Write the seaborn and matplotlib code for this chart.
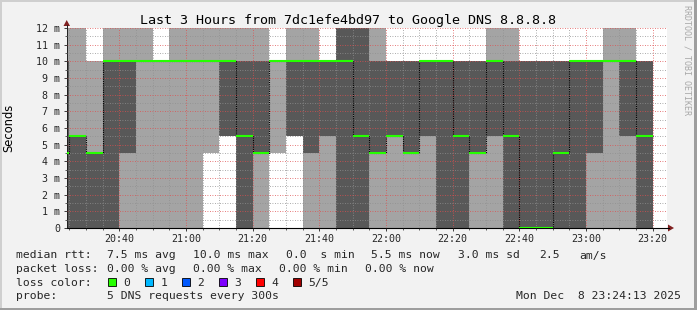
import numpy as np
import pandas as pd
import matplotlib
matplotlib.use("Agg")
import matplotlib.pyplot as plt
import seaborn as sns
from matplotlib.patches import Rectangle, Polygon
from matplotlib.lines import Line2D

# ---------------- data ----------------
bin_start = ["20:20", "20:25", "20:30", "20:35", "20:40", "20:45", "20:50", "20:55",
             "21:00", "21:05", "21:10", "21:15", "21:20", "21:25", "21:30", "21:35",
             "21:40", "21:45", "21:50", "21:55", "22:00", "22:05", "22:10", "22:15",
             "22:20", "22:25", "22:30", "22:35", "22:40", "22:45", "22:50", "22:55",
             "23:00", "23:05", "23:10", "23:15"]
# sorted pings of each 5-ping round (ms); 13 = off the top of the scale
ping_1 = [0, 0, 0, 0, 0, 0, 0, 0, 0, 4.5, 5.5, 0, 0, 4.5, 5.5, 0, 0, 0,
          0, 0, 0, 0, 0, 0, 0, 0, 0, 0, 0, 0, 0, 0, 0, 0, 0, 0]
ping_2 = [0, 0, 0, 0, 4.5, 10, 10, 10, 10, 10, 5.5, 0, 4.5, 10, 5.5, 4.5, 5.5, 0,
          0, 4.5, 5.5, 4.5, 5.5, 0, 0, 4.5, 5.5, 0, 0, 0, 0, 0, 4.5, 10, 5.5, 0]
median = [4.5, 5.5, 4.5, 10, 10, 10, 10, 10, 10, 10, 10, 5.5, 4.5, 10, 10, 10, 10, 10,
          5.5, 4.5, 5.5, 4.5, 10, 10, 5.5, 4.5, 10, 5.5, 0, 0, 4.5, 10, 10, 10, 10, 5.5]
ping_4 = [10, 5.5, 4.5, 10, 10, 10, 10, 10, 10, 10, 10, 10, 10, 10, 10, 10, 10, 13,
          13, 10, 10, 10, 10, 10, 10, 10, 10, 10, 10, 10, 10, 10, 10, 10, 10, 10]
ping_5 = [13, 13, 10, 13, 13, 13, 10, 13, 13, 13, 13, 13, 13, 10, 13, 13, 10, 13,
          13, 13, 10, 10, 10, 10, 10, 10, 13, 13, 10, 10, 10, 10, 10, 13, 13, 10]

x_tick_labels = ["20:40", "21:00", "21:20", "21:40", "22:00", "22:20", "22:40", "23:00", "23:20"]
y_tick_labels = ["0", "1 m", "2 m", "3 m", "4 m", "5 m", "6 m", "7 m", "8 m", "9 m", "10 m", "11 m", "12 m"]

title = "Last 3 Hours from 7dc1efe4bd97 to Google DNS 8.8.8.8"
y_label = "Seconds"
watermark = "RRDTOOL / TOBI OETIKER"
line1 = ["median rtt:", "7.5 ms avg", "10.0 ms max", "0.0  s min", "5.5 ms now", "3.0 ms sd", "2.5", "am/s"]
line2 = ["packet loss:", "0.00 % avg", "0.00 % max", "0.00 % min", "0.00 % now"]
line3_head = "loss color:"
loss_labels = ["0", "1", "2", "3", "4", "5/5"]
loss_colors = ["#26ff00", "#00b8ff", "#0059ff", "#7e00ff", "#ff0000", "#a10000"]
line4 = ["probe:", "5 DNS requests every 300s"]
timestamp = "Mon Dec  8 23:24:13 2025"

# ---------------- layout ----------------
W, H = 697, 310
def fx(x):
    return x / W
def fy(y):
    return 1 - y / H

sns.set_theme(style="white")
plt.rcParams["font.family"] = ["DejaVu Sans Mono"]

fig = plt.figure(figsize=(W / 100, H / 100), dpi=100, facecolor="#f2f2f2")
ax = fig.add_axes([fx(66.7), fy(228), 600 / W, 200 / H])
ax.set_facecolor("white")

def to_min(s):
    h, m = s.split(":")
    return (int(h) - 20) * 60 + int(m)

xs = np.array([to_min(s) for s in bin_start], dtype=float)
edges = np.append(xs, xs[-1] + 5)
def ext(a):
    a = np.asarray(a, dtype=float)
    return np.append(a, a[-1])

df = pd.DataFrame({"t": edges, "median": ext(median)})

# smoke
ax.fill_between(edges, ext(ping_1), ext(ping_5), step="post", color="#a4a4a4", lw=0, zorder=1)
ax.fill_between(edges, ext(ping_2), ext(ping_4), step="post", color="#585858", lw=0, zorder=1.1)

# median: black dotted steps (visible on the vertical parts) + green levels
sns.lineplot(data=df, x="t", y="median", drawstyle="steps-post", color="black",
             linestyle=(0, (1, 1)), lw=0.8, ax=ax, zorder=3)
ax.hlines(median, xs, xs + 5, color="#26ff00", lw=1.5, zorder=4)

t0 = 24 + 13 / 60
ax.set_xlim(t0, t0 + 180)
ax.set_ylim(0, 12)
ax.set_xlabel("")
ax.set_ylabel("")

major_x = [to_min(s) for s in x_tick_labels]
ax.set_xticks(major_x)
ax.set_xticklabels(x_tick_labels)
ax.set_xticks(np.arange(25, 205, 5), minor=True)
ax.set_yticks(range(len(y_tick_labels)))
ax.set_yticklabels(y_tick_labels)
ax.set_yticks(np.arange(0.5, 12, 1.0), minor=True)

ax.set_axisbelow(False)
ax.grid(True, which="major", color=(0.87, 0.31, 0.31, 0.6), linestyle=(0, (1, 2)), lw=0.6)
ax.grid(True, which="minor", color=(0.56, 0.56, 0.56, 0.6), linestyle=(0, (1, 2)), lw=0.6)

ax.tick_params(axis="both", which="major", length=2.5, width=0.6, color="#1f1f1f",
               labelsize=7.2, direction="out", left=True, bottom=True)
ax.tick_params(axis="both", which="minor", length=1.5, width=0.5, color="#1f1f1f",
               direction="out", left=True, bottom=True)
ax.tick_params(axis="x", which="major", pad=2.0)
ax.tick_params(axis="y", which="major", pad=2.3)

for s in ["top", "right"]:
    ax.spines[s].set_visible(False)
ax.spines["left"].set_color("#1f1f1f")
ax.spines["left"].set_linewidth(0.7)
ax.spines["bottom"].set_color("black")
ax.spines["bottom"].set_linewidth(0.8)

# axis extensions and arrows
arrow_c = (0.5, 0.12, 0.12)
fig.add_artist(Line2D([fx(666.7), fx(669)], [fy(228), fy(228)], color="black", lw=0.8))
fig.add_artist(Line2D([fx(66.7), fx(66.7)], [fy(28), fy(25)], color="#1f1f1f", lw=0.7))
fig.add_artist(Polygon([(fx(668), fy(224.5)), (fx(668), fy(231.5)), (fx(674), fy(228))],
                       closed=True, facecolor=arrow_c, edgecolor="none", transform=fig.transFigure))
fig.add_artist(Polygon([(fx(63.5), fy(26)), (fx(70), fy(26)), (fx(66.7), fy(20))],
                       closed=True, facecolor=arrow_c, edgecolor="none", transform=fig.transFigure))

# texts
fig.text(fx(347.5), fy(24), title, ha="center", va="baseline", fontsize=9.6, color="black")
fig.text(fx(8.7), fy(127.5), y_label, rotation=90, ha="center", va="center",
         fontsize=8.3, family=["DejaVu Sans"], color="black")
fig.text(fx(686.5), fy(60), watermark, rotation=270, ha="center", va="center",
         fontsize=6, color="#a8a8a8")

LF = 8.2
x1 = [16.4, 107.1, 193.3, 285.8, 371.1, 457.8, 539.1, 579.1]
for s, x in zip(line1, x1):
    fig.text(fx(x), fy(258.5), s, ha="left", va="baseline", fontsize=LF)
x2 = [16.4, 107.1, 193.3, 279.1, 365.3]
for s, x in zip(line2, x2):
    fig.text(fx(x), fy(272.0), s, ha="left", va="baseline", fontsize=LF)
fig.text(fx(16.4), fy(285.7), line3_head, ha="left", va="baseline", fontsize=LF)
box_x = [108.0, 145.3, 182.2, 219.1, 256.4, 293.3]
for lab, col, bx in zip(loss_labels, loss_colors, box_x):
    fig.add_artist(Rectangle((fx(bx), fy(285.7)), 7.5 / W, 7.8 / H, facecolor=col,
                             edgecolor="black", lw=0.6, transform=fig.transFigure))
    fig.text(fx(bx + 15), fy(285.7), lab, ha="left", va="baseline", fontsize=LF)
x4 = [16.4, 107.1]
for s, x in zip(line4, x4):
    fig.text(fx(x), fy(299.3), s, ha="left", va="baseline", fontsize=LF)
fig.text(fx(680.5), fy(299.3), timestamp, ha="right", va="baseline", fontsize=LF)

# frame shading
fig.add_artist(Rectangle((0, fy(2)), 1, 2 / H, facecolor="#cfcfcf", edgecolor="none", transform=fig.transFigure))
fig.add_artist(Rectangle((0, 0), 2 / W, 1, facecolor="#cfcfcf", edgecolor="none", transform=fig.transFigure))
fig.add_artist(Rectangle((0, 0), 1, 2 / H, facecolor="#9e9e9e", edgecolor="none", transform=fig.transFigure))
fig.add_artist(Rectangle((fx(694), 0), 3 / W, 1, facecolor="#9e9e9e", edgecolor="none", transform=fig.transFigure))

fig.savefig("out.png", dpi=100, facecolor=fig.get_facecolor())
